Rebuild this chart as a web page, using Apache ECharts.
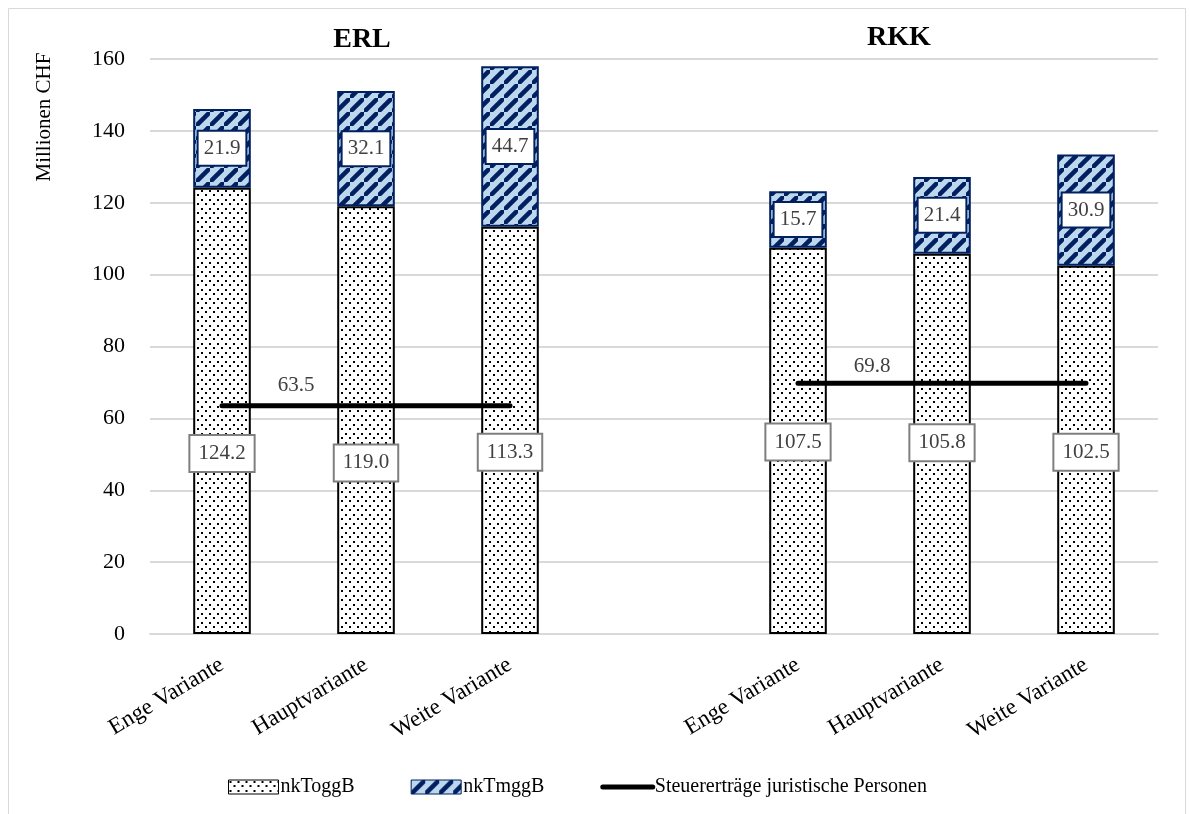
<!DOCTYPE html>
<html>
<head>
<meta charset="utf-8">
<script src="https://cdn.jsdelivr.net/npm/echarts@6/dist/echarts.min.js"></script>
<style>
html,body{margin:0;padding:0;background:#fff;}
#c{width:1190px;height:814px;}
</style>
</head>
<body>
<div id="c"></div>
<script>
// ---- data ----
const categories = ['Enge Variante','Hauptvariante','Weite Variante','','Enge Variante','Hauptvariante','Weite Variante'];
const nkToggB = [124.2, 119.0, 113.3, null, 107.5, 105.8, 102.5];
const nkTmggB = [21.9, 32.1, 44.7, null, 15.7, 21.4, 30.9];
const steuer = [63.5, 63.5, 63.5, null, 69.8, 69.8, 69.8];
const groupTitles = ['ERL', 'RKK'];
const yTicks = [0, 20, 40, 60, 80, 100, 120, 140, 160];
const yAxisTitle = 'Millionen CHF';

// ---- layout config (not data) ----
const FONT = '"Liberation Serif", "DejaVu Serif", serif';
const GRID = {left:150, right:32, top:59, bottom:180};
const plotH = 814 - GRID.top - GRID.bottom;
const pxPerUnit = plotH / 160;
// where (in axis units) the nkToggB labels sit, as placed in the original
const lowLabelAt = [50.2, 47.6, 50.6, null, 53.4, 53.2, 50.6];

function dotPattern(){
  const c = document.createElement('canvas');
  c.width = 8; c.height = 9;
  const g = c.getContext('2d');
  g.fillStyle = '#fff'; g.fillRect(0,0,8,9);
  g.fillStyle = '#000';
  g.fillRect(1,1,2,2);
  g.fillRect(5,5,2,2);
  return c;
}
function hatchPattern(){
  const s = 14;
  const c = document.createElement('canvas');
  c.width = s; c.height = s;
  const g = c.getContext('2d');
  g.fillStyle = '#bdd7ee'; g.fillRect(0,0,s,s);
  g.strokeStyle = '#002060'; g.lineWidth = 4.5;
  g.beginPath();
  g.moveTo(-s, s*2); g.lineTo(s*2, -s);
  g.moveTo(-s*2, s); g.lineTo(s, -s*2);
  g.moveTo(0, s*3); g.lineTo(s*3, 0);
  g.stroke();
  return c;
}

const dotFill = {image: dotPattern(), repeat: 'repeat'};
const hatchFill = {image: hatchPattern(), repeat: 'repeat'};

const lowData = nkToggB.map((v,i) => {
  if (v == null) return v;
  const dy = -(lowLabelAt[i] - v/2) * pxPerUnit;
  return {value: v, label: {offset: [0, dy]}};
});

const lineData = steuer.map((v,i) => {
  if (i === 0 || i === 4) {
    return {value: v, label: {show: true, position: 'top', offset: [74, i === 0 ? -4 : 0], formatter: v.toFixed(1)}};
  }
  return v;
});

const chart = echarts.init(document.getElementById('c'), null, {renderer:'canvas'});
chart.setOption({
  animation: false,
  backgroundColor: '#fff',
  textStyle: {fontFamily: FONT},
  grid: Object.assign({outerBoundsMode: 'none', containLabel: false}, GRID),
  graphic: [
    {type:'rect', shape:{x:8.5, y:8.5, width:1177, height:830}, style:{fill:'none', stroke:'#d9d9d9', lineWidth:1}, silent:true, z:-1},
    {type:'text', x:362, y:40, style:{text:groupTitles[0], font:'bold 28px ' + FONT, fill:'#000', textAlign:'center', textVerticalAlign:'middle'}},
    {type:'text', x:899, y:38, style:{text:groupTitles[1], font:'bold 28px ' + FONT, fill:'#000', textAlign:'center', textVerticalAlign:'middle'}},
    {type:'text', x:44, y:117, rotation: Math.PI/2, style:{text:yAxisTitle, font:'21px ' + FONT, fill:'#000', textAlign:'center', textVerticalAlign:'middle'}}
  ],
  legend: {
    left: 223, top: 772,
    itemWidth: 50, itemHeight: 14, itemGap: 56,
    textStyle: {fontFamily: FONT, fontSize: 20, color: '#000', padding:[0,0,0,-3]},
    data: [
      {name:'nkToggB', icon:'rect', itemStyle:{color: dotFill, borderColor:'#000', borderWidth:1}},
      {name:'nkTmggB', icon:'rect', itemStyle:{color: hatchFill, borderColor:'#002060', borderWidth:1}},
      {name:'Steuererträge juristische Personen', itemStyle:{opacity:0}, lineStyle:{color:'#000', width:5}}
    ]
  },
  xAxis: {
    type: 'category',
    data: categories,
    axisTick: {show:false},
    axisLine: {lineStyle:{color:'#d9d9d9', width:2}},
    axisLabel: {rotate: 31, interval: 0, margin: 29, fontFamily: FONT, fontSize: 23, color:'#000'}
  },
  yAxis: {
    type: 'value', min: 0, max: 160, interval: 20,
    axisLine: {show:false}, axisTick: {show:false},
    axisLabel: {fontFamily: FONT, fontSize: 22, color:'#000', margin: 25,
      formatter: v => yTicks.includes(v) ? String(v) : ''},
    splitLine: {lineStyle:{color:'#d9d9d9', width:2}}
  },
  series: [
    {
      name: 'nkToggB', type: 'bar', stack: 's', barWidth: '40%',
      data: lowData,
      itemStyle: {color: dotFill, borderColor:'#000', borderWidth: 2},
      label: {show: true, position: 'inside', formatter: p => p.value.toFixed(1),
        fontFamily: FONT, fontSize: 21, color:'#404040',
        backgroundColor:'#fff', borderColor:'#7f7f7f', borderWidth:2, padding:[8,8,6,8]}
    },
    {
      name: 'nkTmggB', type: 'bar', stack: 's', barWidth: '40%',
      data: nkTmggB,
      itemStyle: {color: hatchFill, borderColor:'#002060', borderWidth: 2},
      label: {show: true, position: 'inside', formatter: p => p.value.toFixed(1),
        fontFamily: FONT, fontSize: 21, color:'#404040',
        backgroundColor:'#fff', borderColor:'#002060', borderWidth:2, padding:[7,5,5,5]}
    },
    {
      name: 'Steuererträge juristische Personen', type: 'line',
      data: lineData, connectNulls: false,
      symbol: 'circle', symbolSize: 2, showSymbol: true, z: 5,
      lineStyle: {color:'#000', width: 5, cap:'round'},
      itemStyle: {color:'#000'},
      label: {show: false, fontFamily: FONT, fontSize: 21, color:'#404040'}
    }
  ]
});
</script>
</body>
</html>
